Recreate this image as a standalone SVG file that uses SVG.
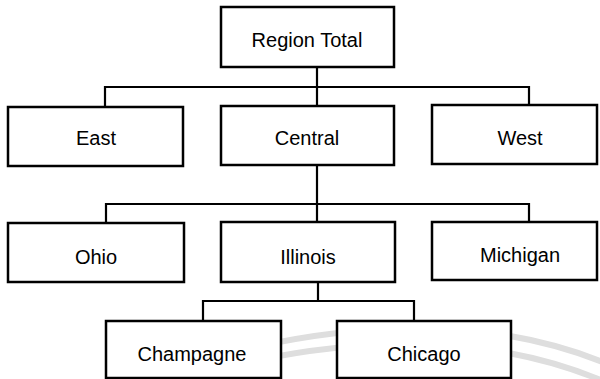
<svg xmlns="http://www.w3.org/2000/svg" width="600" height="379" viewBox="0 0 600 379">
  <style>
    .box { fill: #ffffff; stroke: #000000; stroke-width: 2.5; }
    .label { font-family: "Liberation Sans", Arial, sans-serif; font-size: 20px; fill: #000000; text-anchor: middle; }
    .wire { fill: none; stroke: #000000; stroke-width: 2.2; }
    .mark { fill: none; stroke: #dedede; stroke-width: 6; }
  </style>
  <rect width="600" height="379" fill="#ffffff"/>

  <!-- faint background arcs -->
  <g id="backdrop">
    <path class="mark" d="M 140 379 Q 420 285 610 365"/>
    <path class="mark" d="M 170 382 Q 430 305 610 384"/>
  </g>

  <!-- connectors -->
  <g id="connectors">
    <path class="wire" d="M 317 67 V 107 M 105 107 V 87 H 529 V 106"/>
    <path class="wire" d="M 317 165 V 223 M 106 223 V 204 H 529 V 222"/>
    <path class="wire" d="M 318 282 V 301 M 203 321 V 301 H 414 V 321"/>
  </g>

  <g id="region-total">
    <rect class="box" x="221" y="7" width="173" height="60"/>
    <text class="label" x="307" y="47">Region Total</text>
  </g>

  <g id="east">
    <rect class="box" x="8" y="107" width="175" height="59"/>
    <text class="label" x="96" y="145">East</text>
  </g>
  <g id="central">
    <rect class="box" x="221" y="106" width="173" height="59"/>
    <text class="label" x="307" y="145">Central</text>
  </g>
  <g id="west">
    <rect class="box" x="432" y="105" width="165" height="59"/>
    <text class="label" x="520" y="145">West</text>
  </g>

  <g id="ohio">
    <rect class="box" x="8" y="223" width="176" height="59"/>
    <text class="label" x="96" y="264">Ohio</text>
  </g>
  <g id="illinois">
    <rect class="box" x="221" y="222" width="174" height="60"/>
    <text class="label" x="308" y="264">Illinois</text>
  </g>
  <g id="michigan">
    <rect class="box" x="432" y="222" width="165" height="58"/>
    <text class="label" x="520" y="262">Michigan</text>
  </g>

  <g id="champagne">
    <rect class="box" x="106" y="321" width="175" height="57"/>
    <text class="label" x="192" y="361">Champagne</text>
  </g>
  <g id="chicago">
    <rect class="box" x="337" y="321" width="174" height="57"/>
    <text class="label" x="424" y="361">Chicago</text>
  </g>
</svg>
